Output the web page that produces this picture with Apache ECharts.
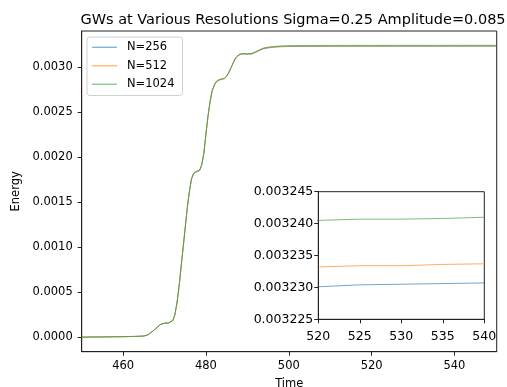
<!DOCTYPE html>
<html>
<head>
<meta charset="utf-8">
<title>GWs at Various Resolutions</title>
<script src="https://cdn.jsdelivr.net/npm/echarts@6/dist/echarts.min.js"></script>
<style>
  html, body { margin: 0; padding: 0; background: #fff; }
  #chart { width: 507px; height: 387px; }
</style>
</head>
<body>
<div id="chart"></div>
<script>
// Sample times (non-uniform: denser where the energy rises quickly)
const time = [
  450, 455, 460, 463, 465, 466, 467, 468, 469, 470, 471, 472, 472.5, 473, 473.5,
  474, 474.5, 475, 475.5, 476, 476.5, 477, 477.5, 478, 478.5, 479, 479.5, 480,
  480.5, 481, 481.5, 482, 482.5, 483, 483.5, 484, 484.5, 485, 485.5, 486, 486.5,
  487, 487.5, 488, 488.5, 489, 490, 491, 492, 493, 494, 495, 496, 497, 498, 500,
  505, 510, 515, 520, 525, 530, 535, 540, 545, 550
];

const energy256 = [
  0, 0.000002, 0.000005, 0.000008, 0.000012, 0.000025, 0.00006, 0.0001, 0.00014, 0.000154, 0.000157, 0.000183, 0.000248, 0.000378, 0.000558,
  0.000778, 0.000998, 0.001218, 0.001436, 0.001614, 0.001752, 0.00181, 0.00183, 0.001838, 0.00185, 0.001912, 0.002042, 0.002252,
  0.002454, 0.002614, 0.002734, 0.002794, 0.002832, 0.00285, 0.002858, 0.002864, 0.002872, 0.002895, 0.002935, 0.002985, 0.003035,
  0.003084, 0.003114, 0.003132, 0.003142, 0.003144, 0.003142, 0.003144, 0.003163, 0.003186, 0.003204, 0.003212, 0.003218, 0.003222, 0.003225, 0.003228,
  0.003229, 0.0032298, 0.0032300, 0.0032301, 0.0032304, 0.0032305, 0.0032306, 0.0032307, 0.0032307, 0.0032308
];

const energy512 = [
  0, 0.000002, 0.000005, 0.000008, 0.000012, 0.000025, 0.00006, 0.0001, 0.00014, 0.000155, 0.000158, 0.000184, 0.000249, 0.000379, 0.000559,
  0.000779, 0.000999, 0.001219, 0.001438, 0.001617, 0.001756, 0.001815, 0.001835, 0.001843, 0.001854, 0.001916, 0.002046, 0.002256,
  0.002457, 0.002617, 0.002737, 0.002797, 0.002836, 0.002854, 0.002862, 0.002867, 0.002875, 0.002897, 0.002937, 0.002987, 0.003037,
  0.003087, 0.003117, 0.003135, 0.003145, 0.003147, 0.003145, 0.003147, 0.003166, 0.003189, 0.003208, 0.003216, 0.003222, 0.003225, 0.003228, 0.003231,
  0.0032325, 0.003233, 0.003233, 0.0032332, 0.0032334, 0.0032334, 0.0032336, 0.0032337, 0.0032338, 0.0032339
];

const energy1024 = [
  0, 0.000002, 0.000005, 0.000008, 0.000012, 0.000025, 0.00006, 0.0001, 0.00014, 0.000155, 0.000158, 0.000185, 0.00025, 0.00038, 0.00056,
  0.00078, 0.001, 0.00122, 0.00144, 0.00162, 0.00176, 0.00182, 0.00184, 0.001848, 0.001858, 0.00192, 0.00205, 0.00226,
  0.00246, 0.00262, 0.00274, 0.0028, 0.00284, 0.002858, 0.002866, 0.00287, 0.002878, 0.0029, 0.00294, 0.00299, 0.00304,
  0.00309, 0.00312, 0.003138, 0.003148, 0.00315, 0.003148, 0.00315, 0.00317, 0.0031925, 0.003212, 0.00322, 0.003226, 0.00323, 0.003234, 0.003237,
  0.003239, 0.00324, 0.0032403, 0.0032405, 0.0032407, 0.0032407, 0.0032408, 0.003241, 0.0032411, 0.0032412
];

const seriesNames = ['N=256', 'N=512', 'N=1024'];
const seriesColors = ['#1f77b4', '#ff7f0e', '#2ca02c'];
const seriesValues = [energy256, energy512, energy1024];

// Tick labels
const mainTimeTicks = [460, 480, 500, 520, 540];
const mainEnergyTicks = [0, 0.0005, 0.001, 0.0015, 0.002, 0.0025, 0.003];
const insetTimeTicks = [520, 525, 530, 535, 540];
const insetEnergyTicks = [0.003225, 0.00323, 0.003235, 0.00324, 0.003245];

const FONT = 'DejaVu Sans';
const INK = '#000';
const SPINE = '#222';

function pairs(values) {
  return time.map((t, i) => [t, values[i]]);
}

function axisBase(extra) {
  return Object.assign({
    type: 'value',
    scale: true,
    splitLine: { show: false },
    axisLine: { show: true, onZero: false, lineStyle: { color: SPINE, width: 1 } }
  }, extra);
}

function ticks(values) {
  return { show: true, inside: false, length: 4, customValues: values, lineStyle: { color: SPINE, width: 1 } };
}

const series = [];
[0, 1].forEach(g => {
  seriesNames.forEach((name, i) => {
    series.push({
      name: name, type: 'line', xAxisIndex: g, yAxisIndex: g,
      data: pairs(seriesValues[i]), showSymbol: false, symbol: 'none', clip: true,
      lineStyle: { color: seriesColors[i], width: 1, opacity: 0.65 },
      itemStyle: { color: seriesColors[i] }
    });
  });
});

const chart = echarts.init(document.getElementById('chart'), null, { renderer: 'canvas' });
chart.setOption({
  animation: false,
  backgroundColor: '#fff',
  title: {
    text: 'GWs at Various Resolutions Sigma=0.25 Amplitude=0.085',
    left: 288, top: 8, textAlign: 'center',
    textStyle: { color: INK, fontFamily: FONT, fontSize: 14.5, fontWeight: 'normal' }
  },
  legend: {
    data: seriesNames,
    orient: 'vertical',
    left: 87, top: 37,
    padding: [4, 8, 5, 5],
    itemGap: 6,
    itemWidth: 25, itemHeight: 1.2,
    icon: 'rect',
    borderColor: '#d0d0d0', borderWidth: 1, borderRadius: 3,
    backgroundColor: 'rgba(255,255,255,0.8)',
    itemStyle: { opacity: 0.65 },
    textStyle: { color: INK, fontFamily: FONT, fontSize: 11.5, lineHeight: 12.5, padding: [0, 0, 0, 5] }
  },
  grid: [
    { left: 81.7, right: 10.3, top: 31, bottom: 35.3, outerBoundsMode: 'none', containLabel: false,
      show: true, borderColor: SPINE, borderWidth: 1, backgroundColor: 'transparent' },
    { left: 318.3, width: 166, top: 191.7, height: 127.6, outerBoundsMode: 'none', containLabel: false,
      show: true, borderColor: SPINE, borderWidth: 1, backgroundColor: '#fff' }
  ],
  xAxis: [
    axisBase({
      gridIndex: 0, min: 450, max: 550.2,
      name: 'Time', nameLocation: 'middle', nameGap: 26,
      nameTextStyle: { color: INK, fontFamily: FONT, fontSize: 11.5 },
      axisTick: ticks(mainTimeTicks),
      axisLabel: { color: INK, fontFamily: FONT, fontSize: 11.5, margin: 8.5, customValues: mainTimeTicks }
    }),
    axisBase({
      gridIndex: 1, min: 520, max: 540,
      axisTick: ticks(insetTimeTicks),
      axisLabel: { color: INK, fontFamily: FONT, fontSize: 12.5, margin: 11, customValues: insetTimeTicks }
    })
  ],
  yAxis: [
    axisBase({
      gridIndex: 0, min: -0.000162, max: 0.0034,
      name: 'Energy', nameLocation: 'middle', nameGap: 52, nameRotate: 90,
      nameTextStyle: { color: INK, fontFamily: FONT, fontSize: 11.5 },
      axisTick: ticks(mainEnergyTicks),
      axisLabel: {
        color: INK, fontFamily: FONT, fontSize: 11.5, margin: 9, customValues: mainEnergyTicks,
        formatter: v => v.toFixed(4)
      }
    }),
    axisBase({
      gridIndex: 1, min: 0.003225, max: 0.003245,
      axisTick: ticks(insetEnergyTicks),
      axisLabel: {
        color: INK, fontFamily: FONT, fontSize: 12.5, margin: 5, customValues: insetEnergyTicks,
        formatter: v => v.toFixed(6)
      }
    })
  ],
  series: series
});
</script>
</body>
</html>
